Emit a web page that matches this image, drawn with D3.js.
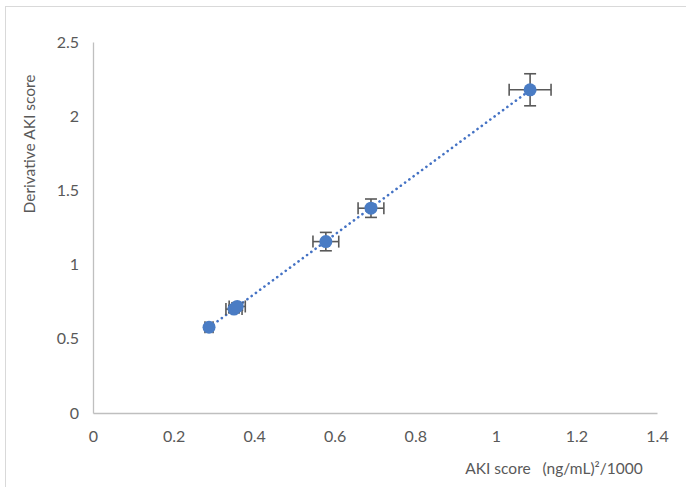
<!DOCTYPE html>
<html><head><meta charset="utf-8">
<script src="https://cdn.jsdelivr.net/npm/d3@7"></script>
<style>body{margin:0;background:#fff;} svg{display:block;}</style>
</head><body>
<svg id="c" width="686" height="487"></svg>
<script>
const xValues = [0.288, 0.350, 0.358, 0.578, 0.690, 1.085];
const yValues = [0.578, 0.700, 0.718, 1.155, 1.380, 2.178];
const xErrors = [0.010, 0.020, 0.020, 0.032, 0.032, 0.052];
const yErrors = [0.010, 0.025, 0.025, 0.062, 0.062, 0.108];
const xTicks = [0, 0.2, 0.4, 0.6, 0.8, 1, 1.2, 1.4];
const yTicks = [0, 0.5, 1, 1.5, 2, 2.5];

const svg = d3.select("#c");
const font = "Lato, 'Open Sans', sans-serif";
const x = d3.scaleLinear().domain([0, 1.4]).range([93, 657]);
const y = d3.scaleLinear().domain([0, 2.5]).range([413, 42]);

// outer frame
svg.append("rect").attr("x", 5.5).attr("y", 6.5).attr("width", 700).attr("height", 500)
  .attr("fill", "none").attr("stroke", "#d9d9d9").attr("stroke-width", 1);

// axes
const xAxis = svg.append("g").attr("transform", "translate(0,413)")
  .call(d3.axisBottom(x).tickValues(xTicks).tickSize(0).tickPadding(18).tickFormat(d3.format("")));
const yAxis = svg.append("g").attr("transform", "translate(93,0)")
  .call(d3.axisLeft(y).tickValues(yTicks).tickSize(0).tickPadding(14).tickFormat(d3.format("")));
[xAxis, yAxis].forEach(g => {
  g.select(".domain").attr("stroke", "#bfbfbf").attr("stroke-width", 1.3);
  g.selectAll("text").attr("fill", "#595959").style("font-family", font).style("font-size", "16px");
});

// trendline (least squares fit)
const n = xValues.length;
const mx = d3.mean(xValues), my = d3.mean(yValues);
let sxy = 0, sxx = 0;
for (let i = 0; i < n; i++) { sxy += (xValues[i]-mx)*(yValues[i]-my); sxx += (xValues[i]-mx)**2; }
const slope = sxy / sxx, icpt = my - slope*mx;
const x0 = d3.min(xValues), x1 = d3.max(xValues);
svg.append("line")
  .attr("x1", x(x0)).attr("y1", y(icpt + slope*x0))
  .attr("x2", x(x1)).attr("y2", y(icpt + slope*x1))
  .attr("stroke", "#4472C4").attr("stroke-width", 2.6)
  .attr("stroke-linecap", "round").attr("stroke-dasharray", "0.1,5.2");

// error bars
const eb = svg.append("g").attr("stroke", "#595959").attr("stroke-width", 1.6).attr("fill", "none");
const cap = 6;
xValues.forEach((xv, i) => {
  const yv = yValues[i];
  eb.append("line").attr("x1", x(xv - xErrors[i])).attr("x2", x(xv + xErrors[i])).attr("y1", y(yv)).attr("y2", y(yv));
  eb.append("line").attr("x1", x(xv - xErrors[i])).attr("x2", x(xv - xErrors[i])).attr("y1", y(yv)-cap).attr("y2", y(yv)+cap);
  eb.append("line").attr("x1", x(xv + xErrors[i])).attr("x2", x(xv + xErrors[i])).attr("y1", y(yv)-cap).attr("y2", y(yv)+cap);
  eb.append("line").attr("y1", y(yv - yErrors[i])).attr("y2", y(yv + yErrors[i])).attr("x1", x(xv)).attr("x2", x(xv));
  eb.append("line").attr("y1", y(yv - yErrors[i])).attr("y2", y(yv - yErrors[i])).attr("x1", x(xv)-cap).attr("x2", x(xv)+cap);
  eb.append("line").attr("y1", y(yv + yErrors[i])).attr("y2", y(yv + yErrors[i])).attr("x1", x(xv)-cap).attr("x2", x(xv)+cap);
});

// markers
svg.append("g").selectAll("circle").data(xValues).join("circle")
  .attr("cx", d => x(d)).attr("cy", (d, i) => y(yValues[i])).attr("r", 6.5)
  .attr("fill", "#4a7cc4");

// axis titles
svg.append("text").attr("x", 554).attr("y", 474).attr("text-anchor", "middle")
  .attr("fill", "#595959").style("font-family", font).style("font-size", "15.5px")
  .text("AKI score\u00a0\u00a0\u00a0(ng/mL)\u00b2/1000");
svg.append("text").attr("transform", "translate(35,144) rotate(-90)").attr("text-anchor", "middle")
  .attr("fill", "#595959").style("font-family", font).style("font-size", "15.5px")
  .text("Derivative AKI score");
</script>
</body></html>
